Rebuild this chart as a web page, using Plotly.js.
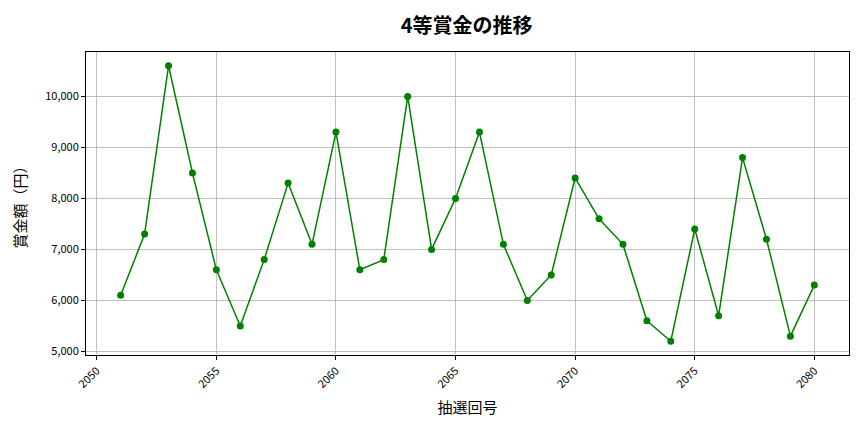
<!DOCTYPE html>
<html>
<head>
<meta charset="utf-8">
<script src="https://cdn.plot.ly/plotly-3.0.1.min.js"></script>
<style>html,body{margin:0;padding:0;background:#fff;}#chart{width:864px;height:432px;}</style>
</head>
<body>
<div id="chart"></div>
<script>
const draws = [2051,2052,2053,2054,2055,2056,2057,2058,2059,2060,2061,2062,2063,2064,2065,2066,2067,2068,2069,2070,2071,2072,2073,2074,2075,2076,2077,2078,2079,2080];
const prizes = [6100,7300,10600,8500,6600,5500,6800,8300,7100,9300,6600,6800,10000,7000,8000,9300,7100,6000,6500,8400,7600,7100,5600,5200,7400,5700,8800,7200,5300,6300];
const xTicks = [2050,2055,2060,2065,2070,2075,2080];
const yTicks = [5000,6000,7000,8000,9000,10000];
const yTickLabels = ["5,000","6,000","7,000","8,000","9,000","10,000"];
const titleText = "<b>4等賞金の推移</b>";
const xTitle = "抽選回号";
const yTitle = "賞金額（円）";

const font = "'Noto Sans CJK JP', 'Noto Sans', sans-serif";
const xmin = Math.min(...draws), xmax = Math.max(...draws);
const ymin = Math.min(...prizes), ymax = Math.max(...prizes);
const xpad = (xmax - xmin) * 0.05, ypad = (ymax - ymin) * 0.05;

Plotly.newPlot('chart', [{
  x: draws, y: prizes, type: 'scatter', mode: 'lines+markers',
  line: {color: 'green', width: 1.5},
  marker: {color: 'green', size: 7}
}], {
  width: 864, height: 432,
  paper_bgcolor: '#fff', plot_bgcolor: '#fff',
  margin: {l: 86, r: 15, t: 52, b: 77},
  title: {text: titleText, font: {family: font, size: 20, color: '#000'}, x: 0.54, xanchor: 'center', y: 0.94, yanchor: 'middle'},
  showlegend: false,
  xaxis: {
    range: [xmin - xpad, xmax + xpad],
    tickmode: 'array', tickvals: xTicks, ticktext: xTicks.map(String),
    tickangle: -45, ticks: 'outside', ticklen: 4, tickcolor: '#000',
    tickfont: {family: font, size: 11, color: '#000'},
    showgrid: true, gridcolor: '#b0b0b0', gridwidth: 0.8,
    showline: true, linecolor: '#000', linewidth: 1, mirror: true, zeroline: false,
    title: {text: xTitle, font: {family: font, size: 15, color: '#000'}, standoff: 12}
  },
  yaxis: {
    range: [ymin - ypad, ymax + ypad],
    tickmode: 'array', tickvals: yTicks, ticktext: yTickLabels,
    ticks: 'outside', ticklen: 4, tickcolor: '#000',
    tickfont: {family: font, size: 11, color: '#000'},
    showgrid: true, gridcolor: '#b0b0b0', gridwidth: 0.8,
    showline: true, linecolor: '#000', linewidth: 1, mirror: true, zeroline: false,
    title: {text: yTitle, font: {family: font, size: 15, color: '#000'}, standoff: 14}
  }
}, {displayModeBar: false, staticPlot: true});
</script>
</body>
</html>
